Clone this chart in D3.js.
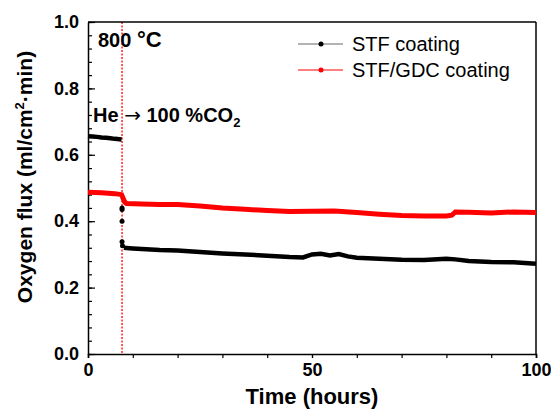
<!DOCTYPE html>
<html>
<head>
<meta charset="utf-8">
<script src="https://cdn.jsdelivr.net/npm/d3@7"></script>
<style>
  body { margin: 0; background: #fff; }
  text { font-family: "Liberation Sans", Arial, sans-serif; }
</style>
</head>
<body>
<div class="chart"></div>
<script>
// STF coating, before and after the gas switch
const stfTimeHe = [0, 1, 2, 3, 4, 5, 6, 7, 7.5];
const stfFluxHe = [0.656, 0.655, 0.654, 0.652, 0.651, 0.650, 0.648, 0.647, 0.646];
const stfTimeJump = [7.6, 7.6, 7.6, 7.6, 7.7];
const stfFluxJump = [0.44, 0.435, 0.40, 0.338, 0.326];
const stfTimeCO2 = [8, 10, 12, 16, 20, 25, 30, 35, 40, 45, 48, 50, 52, 54, 56, 58, 60, 65, 70, 75, 80, 82, 85, 90, 95, 100];
const stfFluxCO2 = [0.320, 0.318, 0.316, 0.313, 0.312, 0.307, 0.303, 0.300, 0.296, 0.292, 0.291, 0.300, 0.302, 0.297, 0.301, 0.294, 0.290, 0.287, 0.284, 0.283, 0.287, 0.285, 0.280, 0.277, 0.276, 0.272];

// STF/GDC coating
const gdcTime = [0, 3, 6, 7.5, 7.8, 8.2, 8.6, 12, 16, 20, 25, 30, 35, 40, 45, 50, 55, 60, 65, 70, 75, 80, 81.2, 82, 85, 90, 95, 100];
const gdcFlux = [0.487, 0.486, 0.483, 0.480, 0.470, 0.458, 0.453, 0.452, 0.450, 0.450, 0.446, 0.440, 0.436, 0.432, 0.429, 0.430, 0.431, 0.426, 0.421, 0.417, 0.416, 0.416, 0.418, 0.428, 0.427, 0.425, 0.428, 0.426];

const switchTime = 7.6;
const xTicks = [0, 50, 100];
const yTicks = [0.0, 0.2, 0.4, 0.6, 0.8, 1.0];
const seriesNames = ["STF coating", "STF/GDC coating"];
const seriesColors = ["#000000", "#ff0000"];

const margin = {top: 22, left: 88, right: 15, bottom: 57};
const width = 551 - margin.left - margin.right;
const height = 411 - margin.top - margin.bottom;

const svg = d3.select(".chart").append("svg")
    .attr("width", 551)
    .attr("height", 411)
    .append("g")
    .attr("transform", `translate(${margin.left},${margin.top})`);

const x = d3.scaleLinear().domain([0, 100]).range([0, width]);
const y = d3.scaleLinear().domain([0, 1.0]).range([height, 0]);

const zip = (ts, vs) => ts.map((t, i) => ({t: t, v: vs[i]}));
const line = d3.line().x(d => x(d.t)).y(d => y(d.v));

// gas switch marker
svg.append("line")
    .attr("x1", x(switchTime)).attr("x2", x(switchTime))
    .attr("y1", 0).attr("y2", height)
    .attr("stroke", "#ff0000")
    .attr("stroke-width", 1.3)
    .attr("stroke-dasharray", "2,1.5");

// axes: minor ticks first, then majors with labels
svg.append("g")
    .attr("transform", `translate(0,${height})`)
    .call(d3.axisBottom(x).tickValues(d3.range(0, 101, 10)).tickSize(4).tickFormat(""))
    .call(g => g.select(".domain").remove());
svg.append("g")
    .attr("class", "x-axis")
    .attr("transform", `translate(0,${height})`)
    .call(d3.axisBottom(x).tickValues(xTicks).tickSize(4).tickFormat(d3.format("d")));

svg.append("g")
    .call(d3.axisRight(y).tickValues(d3.range(0, 1.001, 0.04)).tickSize(4).tickFormat(""))
    .call(g => g.select(".domain").remove());
svg.append("g")
    .attr("class", "y-axis")
    .call(d3.axisLeft(y).tickValues(yTicks).tickSize(0).tickPadding(9).tickFormat(d3.format(".1f")));
svg.append("g")
    .call(d3.axisRight(y).tickValues(yTicks).tickSize(7).tickFormat(""))
    .call(g => g.select(".domain").remove());

// top and right frame
svg.append("line").attr("x1", 0).attr("x2", width).attr("y1", 0).attr("y2", 0)
    .attr("stroke", "#000").attr("stroke-width", 1.5);
svg.append("line").attr("x1", width).attr("x2", width).attr("y1", 0).attr("y2", height)
    .attr("stroke", "#000").attr("stroke-width", 1.5);

svg.selectAll(".domain").attr("stroke-width", 1.5);
svg.selectAll(".tick line").attr("stroke-width", 1.2);
svg.selectAll(".x-axis text, .y-axis text")
    .attr("font-size", 18)
    .attr("font-weight", "bold")
    .attr("font-family", "Liberation Sans, Arial, sans-serif")
    .attr("fill", "#000");
svg.selectAll(".x-axis text").attr("dy", "0.85em");

// series
svg.append("path")
    .datum(zip(gdcTime, gdcFlux))
    .attr("fill", "none").attr("stroke", seriesColors[1])
    .attr("stroke-width", 5).attr("d", line);

svg.append("path")
    .datum(zip(stfTimeHe, stfFluxHe))
    .attr("fill", "none").attr("stroke", seriesColors[0])
    .attr("stroke-width", 4.5).attr("d", line);
svg.append("path")
    .datum(zip(stfTimeCO2, stfFluxCO2))
    .attr("fill", "none").attr("stroke", seriesColors[0])
    .attr("stroke-width", 4.5).attr("d", line);
svg.selectAll(".jump")
    .data(zip(stfTimeJump, stfFluxJump))
    .enter()
    .append("circle")
    .attr("class", "jump")
    .attr("cx", d => x(d.t))
    .attr("cy", d => y(d.v))
    .attr("r", 2.5)
    .attr("fill", "#000");

// annotations
const t800 = svg.append("text")
    .attr("x", 10).attr("y", 25)
    .attr("font-size", 20).attr("font-weight", "bold");
t800.append("tspan").text("800 ");
t800.append("tspan").attr("font-size", 22).text("°C");

const ann = svg.append("text")
    .attr("x", 5).attr("y", 100)
    .attr("font-size", 20).attr("font-weight", "bold");
ann.append("tspan").text("He ");
ann.append("tspan").attr("font-family", "DejaVu Sans").attr("font-weight", "normal").text("→");
ann.append("tspan").text(" 100 %CO");
ann.append("tspan").attr("font-size", 13).attr("dy", 5).text("2");

// legend
const legend = svg.append("g");
seriesNames.forEach((name, i) => {
    const ly = 22 + i * 26;
    legend.append("line")
        .attr("x1", 210).attr("x2", 255).attr("y1", ly).attr("y2", ly)
        .attr("stroke", i === 0 ? "#666" : seriesColors[1]).attr("stroke-width", 1);
    legend.append("circle")
        .attr("cx", 233).attr("cy", ly).attr("r", 2.5)
        .attr("fill", seriesColors[i]);
    legend.append("text")
        .attr("x", 264).attr("y", ly + 7)
        .attr("font-size", 20)
        .text(name);
});

// axis titles
svg.append("text")
    .attr("x", width / 2).attr("y", height + 50)
    .attr("text-anchor", "middle")
    .attr("font-size", 22).attr("font-weight", "bold")
    .text("Time (hours)");

const yl = svg.append("text")
    .attr("transform", `translate(${-56},${155}) rotate(-90)`)
    .attr("text-anchor", "middle")
    .attr("font-size", 21).attr("font-weight", "bold");
yl.append("tspan").text("Oxygen flux (ml/cm");
yl.append("tspan").attr("font-size", 13).attr("dy", -8).text("2");
yl.append("tspan").attr("dy", 8).text("·min)");
</script>
</body>
</html>
